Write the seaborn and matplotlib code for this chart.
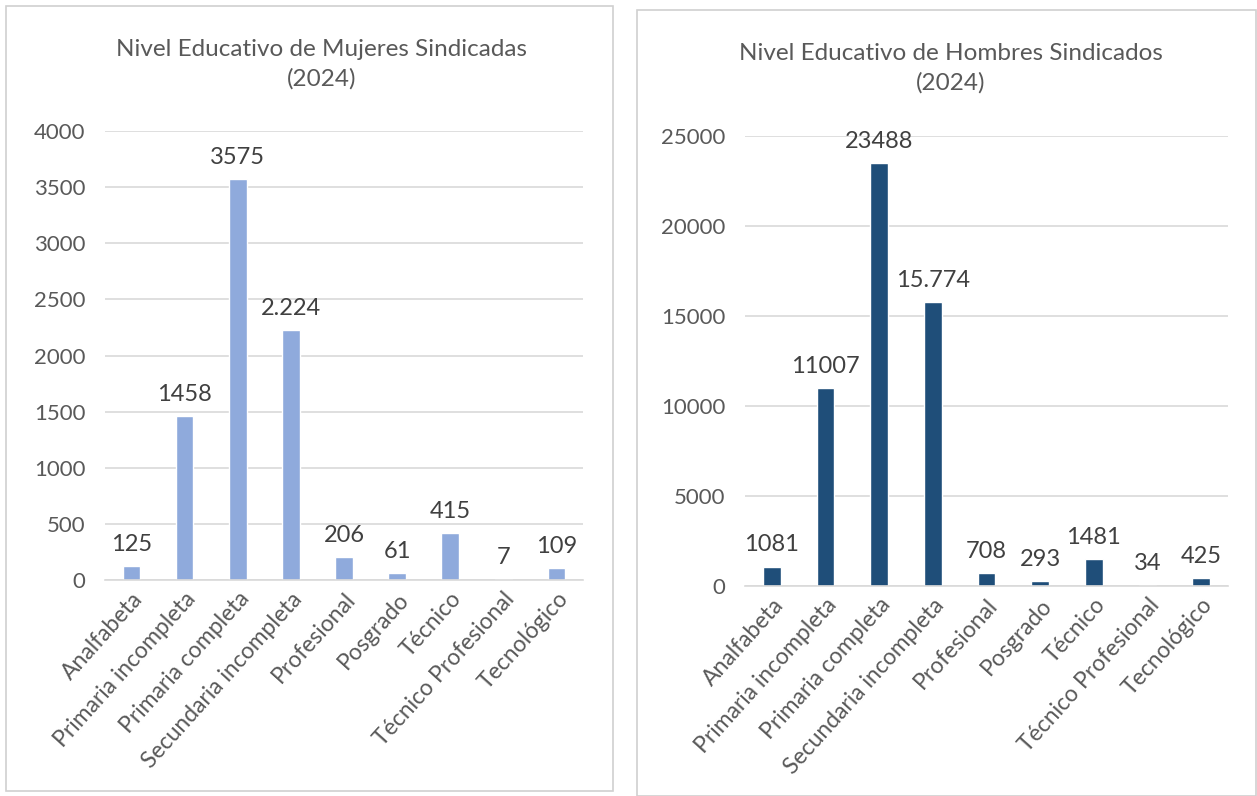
import matplotlib
matplotlib.use("Agg")
import matplotlib.pyplot as plt
import seaborn as sns
import pandas as pd
from matplotlib.patches import Rectangle

# datos
categorias = ["Analfabeta", "Primaria incompleta", "Primaria completa",
              "Secundaria incompleta", "Profesional", "Posgrado", "Técnico",
              "Técnico Profesional", "Tecnológico"]
mujeres = [125, 1458, 3575, 2224, 206, 61, 415, 7, 109]
mujeres_etiquetas = ["125", "1458", "3575", "2.224", "206", "61", "415", "7", "109"]
hombres = [1081, 11007, 23488, 15774, 708, 293, 1481, 34, 425]
hombres_etiquetas = ["1081", "11007", "23488", "15.774", "708", "293", "1481", "34", "425"]
ticks_mujeres = list(range(0, 4001, 500))
ticks_hombres = list(range(0, 25001, 5000))

sns.set_style("white")
plt.rcParams['font.family'] = ['Lato', 'DejaVu Sans']

W, H = 1257, 796
fig = plt.figure(figsize=(W / 100, H / 100), dpi=100)

# marcos de cada grafico
for x0, y0, x1, y1 in [(6, 6, 613, 791), (637, 10, 1256, 796)]:
    fig.patches.append(Rectangle((x0 / W, 1 - y1 / H), (x1 - x0) / W, (y1 - y0) / H,
                                 transform=fig.transFigure, fill=False,
                                 edgecolor="#D0D0D0", linewidth=1.2))


def grafico(pos, valores, etiquetas, ticks, color, titulo, titulo_xy):
    l, t, r, b = pos
    ax = fig.add_axes([l / W, 1 - b / H, (r - l) / W, (b - t) / H])
    df = pd.DataFrame({"nivel": categorias, "valor": valores})
    sns.barplot(data=df, x="nivel", y="valor", color=color, width=0.33,
                saturation=1, ax=ax)
    ax.set_ylim(ticks[0], ticks[-1])
    ax.set_yticks(ticks)
    ax.set_xlim(-0.5, len(categorias) - 0.5)
    ax.yaxis.grid(True, color="#D9D9D9", linewidth=1.2)
    ax.set_axisbelow(True)
    for s in ["top", "right", "left"]:
        ax.spines[s].set_visible(False)
    ax.spines["bottom"].set_color("#D9D9D9")
    ax.spines["bottom"].set_linewidth(1.2)
    ax.tick_params(length=0, colors="#595959")
    ax.tick_params(axis="y", pad=14, labelsize=16)
    ax.tick_params(axis="x", pad=6, labelsize=16.5)
    ax.set_xticks(range(len(categorias)))
    ax.set_xticklabels(categorias, rotation=48, ha="right", rotation_mode="anchor")
    ax.set_xlabel("")
    ax.set_ylabel("")
    for i, (v, e) in enumerate(zip(valores, etiquetas)):
        ax.annotate(e, (i, v), xytext=(0, 8), textcoords="offset points",
                    ha="center", va="bottom", fontsize=17, color="#404040")
    fig.text(titulo_xy[0] / W, 1 - titulo_xy[1] / H, titulo, ha="center",
             va="center", fontsize=17.5, color="#595959", linespacing=1.45)
    return ax


grafico((105, 131, 583, 580), mujeres, mujeres_etiquetas, ticks_mujeres,
        "#8FAADC", "Nivel Educativo de Mujeres Sindicadas\n(2024)", (322, 64))
grafico((745, 136, 1228, 586), hombres, hombres_etiquetas, ticks_hombres,
        "#1F4E79", "Nivel Educativo de Hombres Sindicados\n(2024)", (951, 68))

plt.savefig("out.png", dpi=100)
